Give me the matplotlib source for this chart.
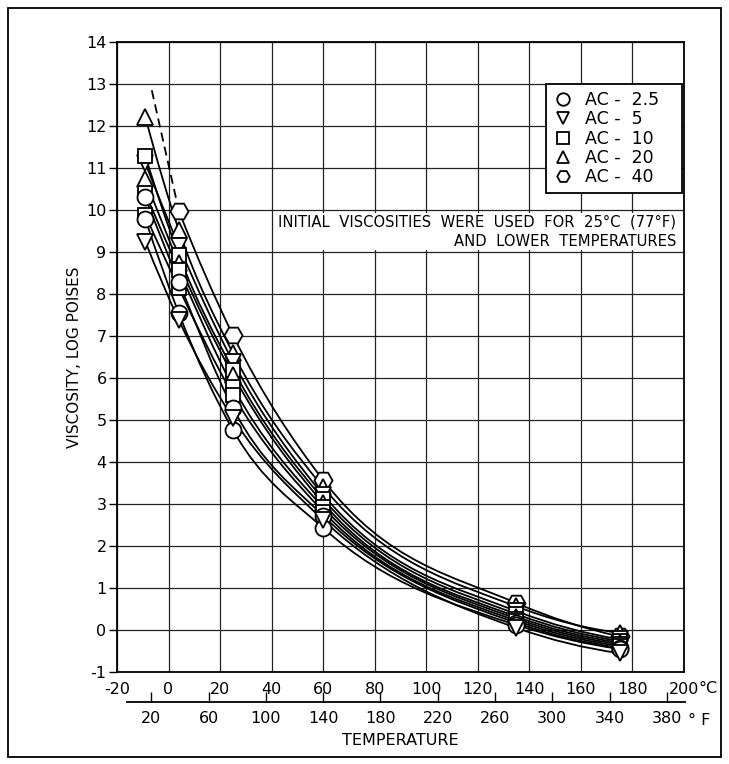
import numpy as np
import matplotlib
matplotlib.use("Agg")
import matplotlib.pyplot as plt
from matplotlib.path import Path
from matplotlib.patches import PathPatch, Rectangle
from matplotlib.lines import Line2D

# test temperatures, deg C
temps_c = [-9, 4, 25, 60, 135, 175]

# log viscosity (poises) for each asphalt
ac40 = [np.nan, 9.98, 7.02, 3.57, 0.64, -0.15]
ac20_a = [12.22, 9.52, 6.59, 3.40, 0.56, -0.07]
ac5_a = [11.12, 9.15, 6.39, 3.22, 0.45, -0.22]
ac10_a = [11.29, 8.93, 6.20, 3.12, 0.38, -0.26]
ac20_b = [10.74, 8.73, 6.07, 3.02, 0.32, -0.30]
ac10_b = [10.40, 8.57, 5.79, 2.92, 0.27, -0.34]
ac10_c = [9.88, 8.14, 5.60, 2.82, 0.22, -0.38]
ac25_a = [10.30, 8.29, 5.28, 2.72, 0.17, -0.42]
ac25_b = [9.79, 7.54, 4.76, 2.43, 0.12, -0.45]
ac5_b = [9.25, 7.38, 5.04, 2.62, 0.05, -0.55]

# dashed extension of the AC-40 curve to low temperature
ac40_ext_t = [-6.5, 4]
ac40_ext_v = [12.85, 9.98]

series = [
    (ac40, "H"), (ac20_a, "^"), (ac5_a, "v"), (ac10_a, "s"), (ac20_b, "^"),
    (ac10_b, "s"), (ac10_c, "s"), (ac25_a, "o"), (ac25_b, "o"), (ac5_b, "v"),
]
marker_size = {"H": 13, "^": 11, "v": 11, "s": 10.5, "o": 11.5}

legend_labels = ["AC -  2.5   ", "AC -  5", "AC -  10", "AC -  20", "AC -  40"]
legend_markers = ["o", "v", "s", "^", "H"]

x_ticks_c = list(range(-20, 201, 20))
y_ticks = list(range(-1, 15))
f_ticks = list(range(20, 381, 40))


def smooth_path(x, y):
    """Cubic Hermite curve through the points, as bezier segments."""
    x = np.asarray(x, float)
    y = np.asarray(y, float)
    ok = ~np.isnan(y)
    x, y = x[ok], y[ok]
    h = np.diff(x)
    d = np.diff(y) / h
    m = np.empty_like(y)
    m[1:-1] = (h[1:] * d[:-1] + h[:-1] * d[1:]) / (h[:-1] + h[1:])
    m[0] = 2 * d[0] - m[1]
    m[-1] = 2 * d[-1] - m[-2]
    verts = [(x[0], y[0])]
    codes = [Path.MOVETO]
    for i in range(len(h)):
        verts += [(x[i] + h[i] / 3, y[i] + m[i] * h[i] / 3),
                  (x[i + 1] - h[i] / 3, y[i + 1] - m[i + 1] * h[i] / 3),
                  (x[i + 1], y[i + 1])]
        codes += [Path.CURVE4] * 3
    return Path(verts, codes)


plt.rcParams['font.family'] = ['DejaVu Sans']

fig = plt.figure(figsize=(7.29, 7.64), dpi=100)
ax = fig.add_axes([117 / 729, 1 - 672 / 764, 567 / 729, 630 / 764])

for vals, mk in series:
    ax.add_patch(PathPatch(smooth_path(temps_c, vals), fill=False,
                           edgecolor='black', lw=1.3, zorder=2))
    ax.plot(temps_c, vals, linestyle='none', marker=mk, ms=marker_size[mk],
            mfc='white', mec='black', mew=1.3, zorder=3)

ax.plot(ac40_ext_t, ac40_ext_v, color='black', lw=1.3, ls=(0, (5, 3)), zorder=2)

ax.set_xlim(-20, 200)
ax.set_ylim(-1, 14)
ax.set_xticks(x_ticks_c)
ax.set_yticks(y_ticks)
ax.set_xticklabels([str(t) for t in x_ticks_c], fontsize=11.5)
ax.set_yticklabels([str(t) for t in y_ticks], fontsize=11.5)
ax.tick_params(axis='x', length=0, pad=7)
ax.tick_params(axis='y', length=6, width=1, pad=1.5, direction='out')
ax.grid(True, color='#222222', lw=0.9)
ax.set_axisbelow(True)
for sp in ax.spines.values():
    sp.set_linewidth(1.3)

ax.set_ylabel("VISCOSITY, LOG POISES", fontsize=11, labelpad=3)

xt = ax.get_xaxis_transform()
ax.text(205.5, -0.026, "°C", transform=xt, fontsize=11.5, ha='left', va='center')

# fahrenheit scale below the celsius one
sec = ax.secondary_xaxis(-0.048, functions=(lambda c: c * 9 / 5 + 32,
                                             lambda f: (f - 32) * 5 / 9))
sec.set_xticks(f_ticks)
sec.set_xticklabels([str(t) for t in f_ticks], fontsize=11.5)
sec.tick_params(axis='x', direction='in', length=7, width=1, pad=6)
sec.spines['bottom'].set_linewidth(1.3)
sec.spines['bottom'].set_bounds(3, 393)
sec.set_xlabel("TEMPERATURE", fontsize=11.5, labelpad=5)
ax.text(201.5, -0.077, "° F", transform=xt, fontsize=11.5, ha='left', va='center')

ax.text(197, 9.49, "INITIAL  VISCOSITIES  WERE  USED  FOR  25°C  (77°F)\nAND  LOWER  TEMPERATURES",
        ha='right', va='center', multialignment='right', fontsize=10.6,
        linespacing=1.4, zorder=4,
        bbox=dict(facecolor='white', edgecolor='none', pad=1))

handles = [Line2D([0], [0], linestyle='none', marker=m, ms=9, mfc='white',
                  mec='black', mew=1.3) for m in legend_markers]
leg = ax.legend(handles, legend_labels, loc='upper right',
                bbox_to_anchor=(0.997, 14 / 15), borderaxespad=0,
                fontsize=12.5, frameon=True, fancybox=False, framealpha=1,
                edgecolor='black', labelspacing=0.08, handlelength=1.15,
                handletextpad=0.69, borderpad=0.4)
leg.get_frame().set_linewidth(1.3)
leg.set_zorder(5)

fig.patches.append(Rectangle((8 / 729, 1 - 757 / 764), 713 / 729, 749 / 764,
                             transform=fig.transFigure, fill=False,
                             edgecolor='black', lw=1.3))

fig.savefig("out.png", dpi=100)
